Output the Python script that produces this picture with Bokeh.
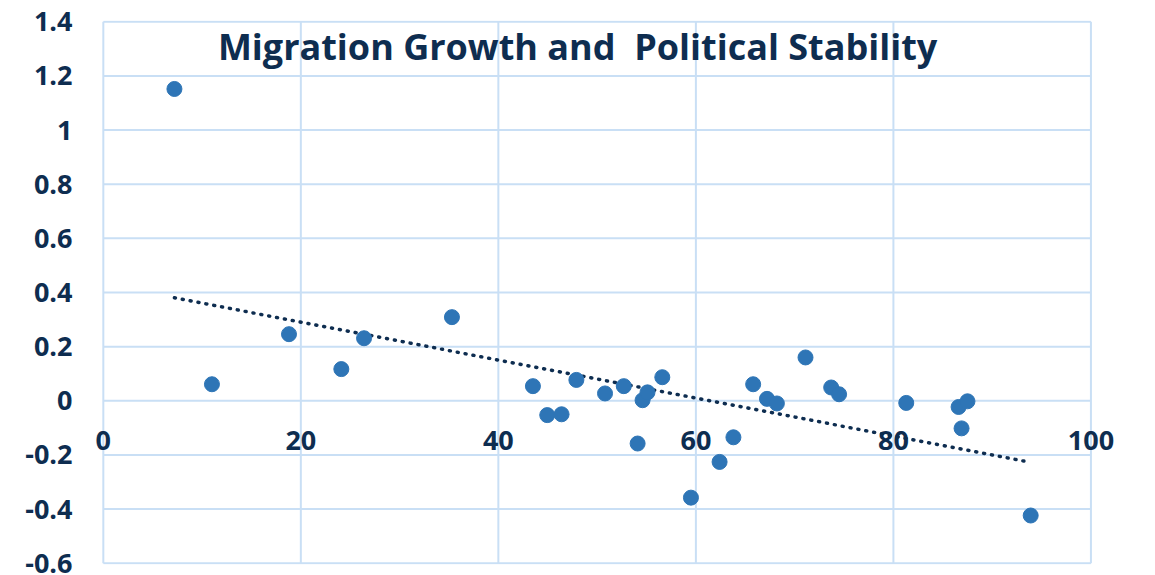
import numpy as np
from bokeh.plotting import figure
from bokeh.models import Label, FixedTicker, Range1d, LinearAxis
from bokeh.embed import file_html
from bokeh.resources import INLINE

# ---- data ----
stability = [7.2, 11.0, 18.8, 24.1, 26.4, 35.3, 43.5, 44.95, 46.4, 47.9,
             50.8, 52.7, 54.1, 54.6, 55.1, 56.6, 59.5, 62.4, 63.8, 65.8,
             67.2, 68.2, 71.1, 73.7, 74.5, 81.3, 86.6, 86.9, 87.5, 93.9]
migration = [1.152, 0.061, 0.246, 0.117, 0.231, 0.309, 0.054, -0.053, -0.050, 0.077,
             0.027, 0.054, -0.158, 0.002, 0.031, 0.087, -0.358, -0.226, -0.135, 0.061,
             0.007, -0.010, 0.160, 0.049, 0.024, -0.008, -0.023, -0.102, -0.002, -0.424]
x_ticks = [0, 20, 40, 60, 80, 100]
x_tick_labels = ["0", "20", "40", "60", "80", "100"]
y_ticks = [-0.6, -0.4, -0.2, 0, 0.2, 0.4, 0.6, 0.8, 1.0, 1.2, 1.4]
y_tick_labels = ["-0.6", "-0.4", "-0.2", "0", "0.2", "0.4", "0.6", "0.8", "1", "1.2", "1.4"]
title_text = "Migration Growth and\u00a0 Political Stability"

TEXT = "#0e2d50"
GRID = "#c9dff5"
DOT = "#2e75b6"
FONT = "Open Sans"
TICK_SIZE = "27px"

xmin, xmax = x_ticks[0], x_ticks[-1]
ymin, ymax = y_ticks[0], y_ticks[-1]

p = figure(width=1147, height=573, output_backend="svg", toolbar_location=None,
           x_range=Range1d(xmin - 1.5, xmax + 3.5), y_range=Range1d(ymin - 0.005, ymax + 0.005),
           min_border_left=88, min_border_right=22, min_border_top=20, min_border_bottom=9,
           x_axis_location=None)
p.background_fill_color = "white"
p.border_fill_color = "white"
p.outline_line_color = None
p.xgrid.visible = False
p.ygrid.visible = False

# plot-area grid (limited to the 0..100 x -0.6..1.4 box)
p.segment(x0=[xmin] * len(y_ticks), x1=[xmax] * len(y_ticks), y0=y_ticks, y1=y_ticks,
          line_color=GRID, line_width=2)
p.segment(x0=x_ticks, x1=x_ticks, y0=[ymin] * len(x_ticks), y1=[ymax] * len(x_ticks),
          line_color=GRID, line_width=2)

yax = p.yaxis[0]
yax.ticker = FixedTicker(ticks=y_ticks)
yax.major_label_overrides = {t: l for t, l in zip(y_ticks, y_tick_labels)}
yax.axis_line_color = None
yax.major_tick_line_color = None
yax.minor_tick_line_color = None
yax.major_tick_out = 0
yax.major_tick_in = 0
yax.major_label_standoff = 16
yax.major_label_text_font = FONT
yax.major_label_text_font_style = "bold"
yax.major_label_text_font_size = TICK_SIZE
yax.major_label_text_color = TEXT

# x axis crossing at y = 0
xax = LinearAxis(ticker=FixedTicker(ticks=x_ticks), fixed_location=0)
xax.major_label_overrides = {t: l for t, l in zip(x_ticks, x_tick_labels)}
xax.axis_line_color = None
xax.major_tick_line_color = None
xax.minor_tick_line_color = None
xax.major_tick_out = 0
xax.major_tick_in = 0
xax.major_label_standoff = 30
xax.major_label_text_font = FONT
xax.major_label_text_font_style = "bold"
xax.major_label_text_font_size = TICK_SIZE
xax.major_label_text_color = TEXT
p.add_layout(xax, "below")

# trend line (least-squares fit)
slope, intercept = np.polyfit(stability, migration, 1)
tx = [min(stability), max(stability)]
ty = [intercept + slope * v for v in tx]
p.line(tx, ty, line_color=TEXT, line_width=3.5, line_dash="1 7", line_cap="round")

p.scatter(stability, migration, size=15, fill_color=DOT, line_color=DOT, line_width=1)

p.add_layout(Label(x=11.6, y=1.31, text=title_text, text_font=FONT,
                   text_font_style="bold", text_font_size="36px", text_color=TEXT,
                   text_baseline="alphabetic", text_align="left"))

open("out.html", "w").write(file_html(p, INLINE))
